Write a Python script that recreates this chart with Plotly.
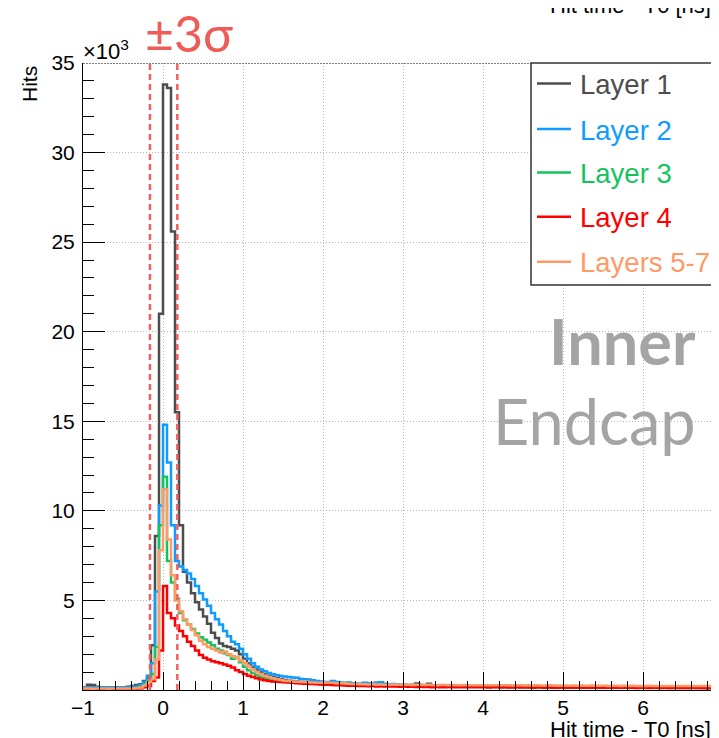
import plotly.graph_objects as go

# ---------------- data (thousands of hits per 0.05 ns bin, from -1.0 ns) ----
BIN_START = -1.0
BIN_WIDTH = 0.05

layer1 = [
    0.15, 0.30, 0.28, 0.18, 0.15, 0.14, 0.15, 0.16, 0.15, 0.14,
    0.15, 0.18, 0.22, 0.28, 0.32, 0.50, 0.70, 2.50, 8.60, 21.0,
    33.8, 33.6, 25.6, 15.5, 9.2, 6.6, 6.0, 5.4, 4.9, 4.5,
    4.1, 3.7, 3.2, 2.9, 2.6, 2.45, 2.4, 2.3, 2.2, 2.0,
    1.75, 1.5, 1.3, 1.15, 1.0, 0.9, 0.8, 0.72, 0.65, 0.6,
    0.56, 0.52, 0.5, 0.47, 0.45, 0.43, 0.42, 0.4, 0.44, 0.4,
    0.38, 0.37, 0.36, 0.38, 0.35, 0.34, 0.33, 0.35, 0.32, 0.31,
    0.30, 0.32, 0.35, 0.30, 0.29, 0.30, 0.28, 0.28, 0.29, 0.27,
    0.28, 0.27, 0.26, 0.36, 0.28, 0.26, 0.35, 0.26, 0.25, 0.25,
    0.24, 0.25, 0.23, 0.24, 0.24, 0.23, 0.22, 0.23, 0.22, 0.22,
    0.21, 0.22, 0.21, 0.21, 0.20, 0.21, 0.20, 0.20, 0.20, 0.19,
    0.20, 0.19, 0.19, 0.20, 0.18, 0.19, 0.18, 0.19, 0.18, 0.18,
    0.18, 0.17, 0.18, 0.17, 0.17, 0.18, 0.17, 0.16, 0.17, 0.16,
    0.16, 0.17, 0.16, 0.16, 0.15, 0.16, 0.16, 0.15, 0.15, 0.16,
    0.15, 0.15, 0.14, 0.15, 0.15, 0.14, 0.15, 0.14, 0.14, 0.15,
    0.14, 0.14, 0.13, 0.14, 0.14, 0.13, 0.14, 0.13, 0.13, 0.14,
]

layer2 = [
    0.16, 0.15, 0.16, 0.15, 0.15, 0.16, 0.15, 0.15, 0.16, 0.15,
    0.16, 0.17, 0.18, 0.20, 0.28, 0.45, 0.80, 1.50, 5.50, 10.3,
    14.8, 12.7, 9.2, 7.2, 6.9, 6.7, 6.5, 6.2, 5.8, 5.4,
    5.05, 4.7, 4.3, 3.95, 3.65, 3.3, 3.0, 2.7, 2.55, 2.3,
    2.0, 1.75, 1.5, 1.3, 1.15, 1.05, 0.95, 0.88, 0.82, 0.78,
    0.75, 0.72, 0.70, 0.68, 0.62, 0.60, 0.58, 0.55, 0.50, 0.48,
    0.45, 0.45, 0.50, 0.45, 0.42, 0.40, 0.42, 0.38, 0.36, 0.36,
    0.40, 0.38, 0.36, 0.42, 0.43, 0.35, 0.32, 0.33, 0.30, 0.30,
    0.29, 0.28, 0.29, 0.27, 0.27, 0.26, 0.27, 0.25, 0.26, 0.25,
    0.24, 0.25, 0.24, 0.23, 0.24, 0.23, 0.22, 0.23, 0.22, 0.21,
    0.22, 0.21, 0.21, 0.20, 0.21, 0.20, 0.20, 0.21, 0.19, 0.20,
    0.19, 0.20, 0.19, 0.19, 0.18, 0.19, 0.18, 0.18, 0.19, 0.18,
    0.17, 0.18, 0.17, 0.18, 0.17, 0.17, 0.16, 0.17, 0.16, 0.17,
    0.16, 0.16, 0.15, 0.16, 0.16, 0.15, 0.16, 0.15, 0.15, 0.15,
    0.15, 0.14, 0.15, 0.14, 0.15, 0.14, 0.14, 0.15, 0.14, 0.14,
    0.13, 0.14, 0.14, 0.13, 0.14, 0.13, 0.13, 0.14, 0.13, 0.13,
]

layer3 = [
    0.08, 0.07, 0.08, 0.08, 0.07, 0.08, 0.08, 0.07, 0.08, 0.08,
    0.08, 0.09, 0.10, 0.12, 0.15, 0.30, 0.50, 0.90, 2.40, 9.2,
    11.9, 7.2, 6.0, 5.1, 4.3, 3.9, 3.65, 3.4, 3.15, 2.95,
    2.8, 2.65, 2.5, 2.3, 2.2, 2.05, 1.95, 1.75, 1.8, 1.55,
    1.3, 1.1, 0.95, 0.82, 0.72, 0.65, 0.60, 0.56, 0.52, 0.50,
    0.47, 0.45, 0.43, 0.41, 0.40, 0.38, 0.37, 0.36, 0.35, 0.34,
    0.33, 0.32, 0.32, 0.31, 0.30, 0.29, 0.29, 0.28, 0.27, 0.27,
    0.26, 0.26, 0.25, 0.26, 0.25, 0.24, 0.25, 0.24, 0.23, 0.24,
    0.23, 0.22, 0.23, 0.22, 0.22, 0.21, 0.22, 0.21, 0.20, 0.21,
    0.20, 0.20, 0.19, 0.20, 0.19, 0.19, 0.18, 0.19, 0.18, 0.18,
    0.18, 0.17, 0.18, 0.17, 0.17, 0.17, 0.16, 0.17, 0.16, 0.16,
    0.16, 0.15, 0.16, 0.15, 0.15, 0.16, 0.15, 0.15, 0.14, 0.15,
    0.14, 0.15, 0.14, 0.14, 0.14, 0.13, 0.14, 0.13, 0.14, 0.13,
    0.13, 0.13, 0.12, 0.13, 0.13, 0.12, 0.13, 0.12, 0.12, 0.13,
    0.12, 0.12, 0.12, 0.11, 0.12, 0.12, 0.11, 0.12, 0.11, 0.11,
    0.11, 0.11, 0.12, 0.11, 0.11, 0.10, 0.11, 0.11, 0.10, 0.11,
]

layer4 = [
    0.05, 0.05, 0.04, 0.05, 0.05, 0.05, 0.04, 0.05, 0.05, 0.05,
    0.05, 0.05, 0.06, 0.07, 0.10, 0.15, 0.22, 0.50, 0.70, 2.2,
    5.8, 4.3, 4.0, 3.6, 3.3, 3.0, 2.7, 2.45, 2.2, 1.95,
    1.8, 1.7, 1.6, 1.55, 1.5, 1.42, 1.35, 1.25, 1.1, 1.0,
    0.90, 0.80, 0.72, 0.65, 0.58, 0.55, 0.50, 0.48, 0.46, 0.45,
    0.43, 0.42, 0.40, 0.38, 0.36, 0.35, 0.34, 0.33, 0.32, 0.31,
    0.30, 0.29, 0.28, 0.27, 0.26, 0.25, 0.24, 0.24, 0.23, 0.22,
    0.22, 0.21, 0.22, 0.20, 0.21, 0.20, 0.19, 0.20, 0.19, 0.18,
    0.19, 0.18, 0.18, 0.17, 0.18, 0.17, 0.17, 0.16, 0.17, 0.16,
    0.16, 0.17, 0.16, 0.16, 0.15, 0.16, 0.15, 0.16, 0.15, 0.15,
    0.15, 0.14, 0.15, 0.15, 0.14, 0.15, 0.14, 0.14, 0.15, 0.14,
    0.14, 0.14, 0.13, 0.14, 0.14, 0.13, 0.14, 0.13, 0.13, 0.14,
    0.13, 0.13, 0.14, 0.13, 0.13, 0.12, 0.13, 0.13, 0.12, 0.13,
    0.12, 0.13, 0.12, 0.12, 0.13, 0.12, 0.12, 0.12, 0.11, 0.12,
    0.12, 0.11, 0.12, 0.12, 0.11, 0.12, 0.11, 0.11, 0.12, 0.11,
    0.11, 0.11, 0.12, 0.11, 0.11, 0.11, 0.10, 0.11, 0.11, 0.10,
]

layers57 = [
    0.08, 0.08, 0.07, 0.08, 0.08, 0.08, 0.07, 0.08, 0.08, 0.08,
    0.08, 0.08, 0.09, 0.10, 0.14, 0.25, 0.45, 0.60, 1.70, 7.8,
    11.2, 8.4, 6.4, 5.0, 4.4, 3.95, 3.65, 3.35, 3.05, 2.75,
    2.55, 2.4, 2.3, 2.2, 2.1, 2.15, 2.0, 1.9, 1.8, 1.65,
    1.5, 1.3, 1.15, 1.0, 0.90, 0.80, 0.72, 0.66, 0.60, 0.56,
    0.52, 0.50, 0.48, 0.46, 0.45, 0.44, 0.43, 0.42, 0.41, 0.40,
    0.42, 0.40, 0.40, 0.38, 0.37, 0.36, 0.35, 0.34, 0.33, 0.32,
    0.32, 0.31, 0.33, 0.30, 0.31, 0.30, 0.29, 0.31, 0.30, 0.29,
    0.30, 0.29, 0.28, 0.30, 0.29, 0.28, 0.29, 0.28, 0.27, 0.28,
    0.28, 0.27, 0.28, 0.27, 0.27, 0.28, 0.26, 0.27, 0.27, 0.26,
    0.27, 0.26, 0.27, 0.26, 0.26, 0.27, 0.26, 0.25, 0.26, 0.26,
    0.25, 0.26, 0.25, 0.26, 0.25, 0.25, 0.26, 0.25, 0.24, 0.25,
    0.25, 0.24, 0.25, 0.24, 0.25, 0.24, 0.24, 0.25, 0.24, 0.24,
    0.24, 0.23, 0.24, 0.24, 0.23, 0.24, 0.23, 0.24, 0.23, 0.23,
    0.23, 0.24, 0.23, 0.22, 0.23, 0.23, 0.22, 0.23, 0.22, 0.23,
    0.22, 0.23, 0.22, 0.22, 0.23, 0.22, 0.22, 0.21, 0.22, 0.22,
]

series_names = ["Layer 1", "Layer 2", "Layer 3", "Layer 4", "Layers 5-7"]
series_values = [layer1, layer2, layer3, layer4, layers57]
series_colors = ["#4d4d4d", "#0f9bff", "#13c45e", "#ff0000", "#ff9a66"]

sigma_window = [-0.163, 0.179]          # +-3 sigma window [ns]
x_ticks = [-1, 0, 1, 2, 3, 4, 5, 6]
y_ticks = [5, 10, 15, 20, 25, 30, 35]

# ---------------- figure -----------------------------------------------------
# The page body has an 8px margin, so the figure is 8px smaller and shifted.
OFF = 8
PAGE_W, PAGE_H = 719, 738
PLOT_L, PLOT_T, PLOT_R, PLOT_B = 83, 63, 719, 690      # plot area in page px
W, H = PAGE_W - OFF, PAGE_H - OFF
L, T = PLOT_L - OFF, PLOT_T - OFF
B = H - (PLOT_B - OFF)
PW, PH = PLOT_R - PLOT_L, PLOT_B - PLOT_T


def px(xp):
    return (xp - PLOT_L) / PW


def py(yp):
    return (PLOT_B - yp) / PH


fig = go.Figure()
for name, vals, col in zip(series_names, series_values, series_colors):
    edges = [BIN_START + BIN_WIDTH * i for i in range(len(vals) + 1)]
    fig.add_trace(go.Scatter(
        x=edges, y=list(vals) + [vals[-1]], mode="lines", name=name,
        line=dict(color=col, width=2.5, shape="hv"), showlegend=False,
        hoverinfo="skip"))

helv = "Liberation Sans, Arial, Helvetica, sans-serif"
lato = "Lato, Open Sans, sans-serif"

fig.update_layout(
    width=W, height=H, autosize=False,
    margin=dict(l=L, r=0, t=T, b=B, pad=0),
    paper_bgcolor="white", plot_bgcolor="white",
    xaxis=dict(
        range=[-1, -1 + PW / 80.0], tickmode="array", tickvals=x_ticks,
        ticks="inside", ticklen=18, tickwidth=1, tickcolor="#000",
        showline=True, linecolor="#000", linewidth=1,
        showgrid=True, gridcolor="#b5b5b5", griddash="1px,2px", gridwidth=1,
        zeroline=False, ticklabelstandoff=-1,
        tickfont=dict(family=helv, size=21, color="#000"),
        minor=dict(dtick=0.2, tick0=0, ticks="inside", ticklen=9,
                   tickcolor="#000", tickwidth=1, showgrid=False),
    ),
    yaxis=dict(
        range=[0, 35], tickmode="array", tickvals=y_ticks,
        ticks="inside", ticklen=22, tickwidth=1, tickcolor="#000",
        showline=True, linecolor="#000", linewidth=1,
        showgrid=True, gridcolor="#b5b5b5", griddash="1px,2px", gridwidth=1,
        zeroline=False, ticklabelstandoff=3,
        tickfont=dict(family=helv, size=21, color="#000"),
        minor=dict(dtick=1, tick0=0, ticks="inside", ticklen=11,
                   tickcolor="#000", tickwidth=1, showgrid=False),
    ),
)

shapes = []
# top frame (dotted, dark)
shapes.append(dict(type="line", xref="paper", yref="y", x0=0, x1=1.1, y0=35, y1=35,
                   line=dict(color="#555", width=1.5, dash="2px,1px")))
# +-3 sigma lines
for xv in sigma_window:
    shapes.append(dict(type="line", xref="x", yref="y", x0=xv, x1=xv, y0=0, y1=35,
                       line=dict(color="#f06161", width=2.5, dash="6px,4px"),
                       layer="above"))
# legend box
shapes.append(dict(type="rect", xref="paper", yref="paper",
                   x0=px(531), x1=px(760), y0=py(285), y1=py(63),
                   line=dict(color="#333", width=1.5), fillcolor="white",
                   layer="above"))
rows = [83.5, 129, 172.5, 216.7, 261.7]
annotations = []
for name, col, ry in zip(series_names, series_colors, rows):
    shapes.append(dict(type="line", xref="paper", yref="paper",
                       x0=px(537), x1=px(571), y0=py(ry), y1=py(ry),
                       line=dict(color=col, width=2.5), layer="above"))
    annotations.append(dict(xref="paper", yref="paper", x=px(578), y=py(ry + 1),
                            xanchor="left", yanchor="middle", showarrow=False,
                            text=name, font=dict(family=helv, size=27.5, color=col)))

fig.update_layout(shapes=shapes)

annotations += [
    dict(xref="paper", yref="paper", x=px(189), y=py(33), xanchor="center",
         yanchor="middle", showarrow=False, text="±3σ",
         font=dict(family=lato, size=50, color="#ef5b57")),
    dict(xref="paper", yref="paper", x=px(29), y=py(64), xanchor="center",
         yanchor="top", textangle=-90, showarrow=False, text="Hits",
         font=dict(family=helv, size=21, color="#000")),
    dict(xref="paper", yref="paper", x=px(81), y=py(50), xanchor="left",
         yanchor="middle", showarrow=False, text="×10<sup>3</sup>",
         font=dict(family=helv, size=22, color="#000")),
    dict(xref="paper", yref="paper", x=px(713), y=py(729), xanchor="right",
         yanchor="middle", showarrow=False, text="Hit time - T0 [ns]",
         font=dict(family=helv, size=22, color="#000")),
    dict(xref="paper", yref="paper", x=px(713), y=py(5), xanchor="right",
         yanchor="middle", showarrow=False, text="Hit time - T0 [ns]",
         font=dict(family=helv, size=22, color="#000")),
    dict(xref="paper", yref="paper", x=px(721), y=py(707), xanchor="center",
         yanchor="middle", showarrow=False, text="7",
         font=dict(family=helv, size=21, color="#000")),
    dict(xref="paper", yref="paper", x=px(698), y=py(340), xanchor="right",
         yanchor="middle", showarrow=False, text="<b>Inner</b>",
         font=dict(family=lato, size=63, color="#a4a4a4")),
    dict(xref="paper", yref="paper", x=px(698), y=py(420), xanchor="right",
         yanchor="middle", showarrow=False, text="Endcap",
         font=dict(family=lato, size=63, color="#a4a4a4")),
]
fig.update_layout(annotations=annotations)

fig.write_html("out.html")
